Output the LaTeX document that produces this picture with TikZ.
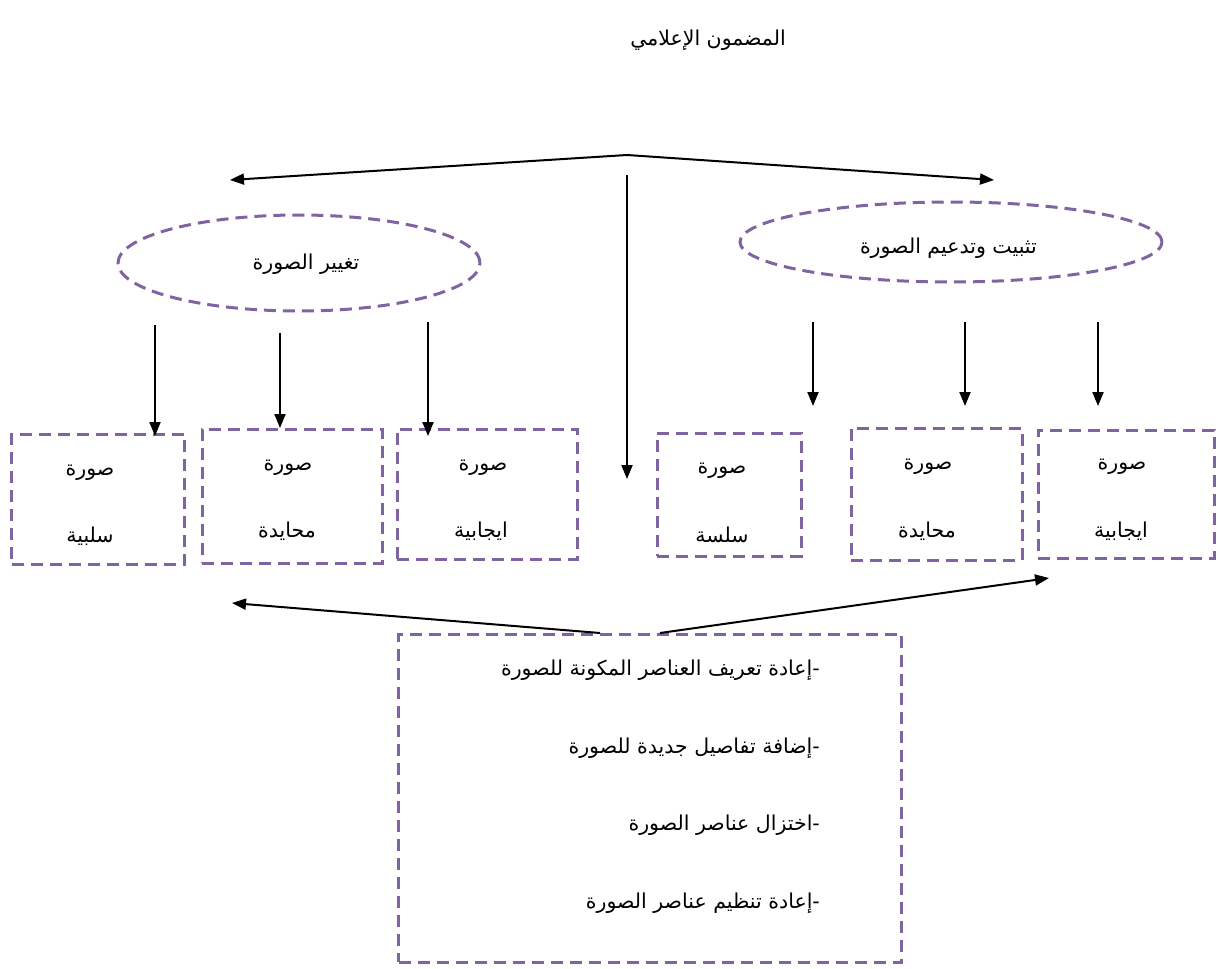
\documentclass[tikz,border=0pt]{standalone}
\usepackage{fontspec}
\usetikzlibrary{arrows.meta,shapes.geometric}
\TeXXeTstate=1
\newfontfamily\arabicfont[Script=Arabic]{DejaVu Sans}
\definecolor{dpurple}{RGB}{128,100,162}
\tikzset{
  txt/.style={font=\arabicfont\fontsize{20.5}{24}\selectfont, inner sep=0pt},
  btxt/.style={font=\arabicfont\fontsize{20.5}{24}\selectfont, inner sep=0pt},
  dbox/.style={draw=dpurple, line width=3pt, dash pattern=on 12pt off 7pt, rectangle, inner sep=0pt},
  dell/.style={draw=dpurple, line width=3pt, dash pattern=on 12pt off 7pt, ellipse, inner sep=0pt},
  arr/.style={draw=black, line width=2pt, -{Triangle[length=14pt,width=11pt]}},
}
\begin{document}
\begin{tikzpicture}[x=1pt,y=-1pt]
\useasboundingbox (0,0) rectangle (1219,969);
% title
\node[txt, anchor=east] (title) at (786,40) {\beginR المضمون الإعلامي\endR};
% ellipses
\node[dell, minimum width=362pt, minimum height=96pt] (eL) at (299,263) {};
\node[txt] (eLt) at (306,264) {\beginR تغيير الصورة\endR};
\node[dell, minimum width=422pt, minimum height=80pt] (eR) at (951,242) {};
\node[txt, anchor=east] (eRt) at (1037,248) {\beginR تثبيت وتدعيم الصورة\endR};
% boxes
\node[dbox, minimum width=173pt, minimum height=130pt] (b1) at (98,499) {};
\node[dbox, minimum width=180pt, minimum height=134pt] (b2) at (292,496) {};
\node[dbox, minimum width=180pt, minimum height=130pt] (b3) at (487,494) {};
\node[dbox, minimum width=144pt, minimum height=123pt] (b4) at (729,494.5) {};
\node[dbox, minimum width=171pt, minimum height=132pt] (b5) at (936.5,494) {};
\node[dbox, minimum width=176pt, minimum height=128pt] (b6) at (1126,494) {};
\node[btxt] (b1a) at (90,473) {\beginR صورة\endR};
\node[btxt] (b1b) at (90,536) {\beginR سلبية\endR};
\node[btxt] (b2a) at (288,468) {\beginR صورة\endR};
\node[btxt] (b2b) at (287,531) {\beginR محايدة\endR};
\node[btxt] (b3a) at (483,468) {\beginR صورة\endR};
\node[btxt] (b3b) at (481,531) {\beginR ايجابية\endR};
\node[btxt] (b4a) at (722,471) {\beginR صورة\endR};
\node[btxt] (b4b) at (722,535) {\beginR سلسة\endR};
\node[btxt] (b5a) at (928,467) {\beginR صورة\endR};
\node[btxt] (b5b) at (927,531) {\beginR محايدة\endR};
\node[btxt] (b6a) at (1122,467) {\beginR صورة\endR};
\node[btxt] (b6b) at (1121,531) {\beginR ايجابية\endR};
% bottom box
\node[dbox, minimum width=503pt, minimum height=328pt] (bb) at (650,798) {};
\node[txt, anchor=east] (l1) at (820,670) {\beginR -إعادة تعريف العناصر المكونة للصورة\endR};
\node[txt, anchor=east] (l2) at (820,748) {\beginR -إضافة تفاصيل جديدة للصورة\endR};
\node[txt, anchor=east] (l3) at (820,825) {\beginR -اختزال عناصر الصورة\endR};
\node[txt, anchor=east] (l4) at (820,903) {\beginR -إعادة تنظيم عناصر الصورة\endR};
% coordinates
\coordinate (top) at (627,155);
\coordinate (topL) at (230,180);
\coordinate (topR) at (994,180);
\coordinate (midS) at (627,175);
\coordinate (midE) at (627,479);
\coordinate (s1) at (155,325); \coordinate (e1) at (155,436);
\coordinate (s2) at (280,333); \coordinate (e2) at (280,428);
\coordinate (s3) at (428,322); \coordinate (e3) at (428,436);
\coordinate (s4) at (813,322); \coordinate (e4) at (813,406);
\coordinate (s5) at (965,322); \coordinate (e5) at (965,406);
\coordinate (s6) at (1098,322); \coordinate (e6) at (1098,406);
\coordinate (bL) at (600,633); \coordinate (bR) at (660,633);
\coordinate (bLe) at (232,603); \coordinate (bRe) at (1049,578);
% arrows
\draw[arr] (top) -- (topL);
\draw[arr] (top) -- (topR);
\draw[arr] (midS) -- (midE);
\foreach \i in {1,...,6} { \draw[arr] (s\i) -- (e\i); }
\draw[arr] (bL) -- (bLe);
\draw[arr] (bR) -- (bRe);
\end{tikzpicture}
\end{document}
